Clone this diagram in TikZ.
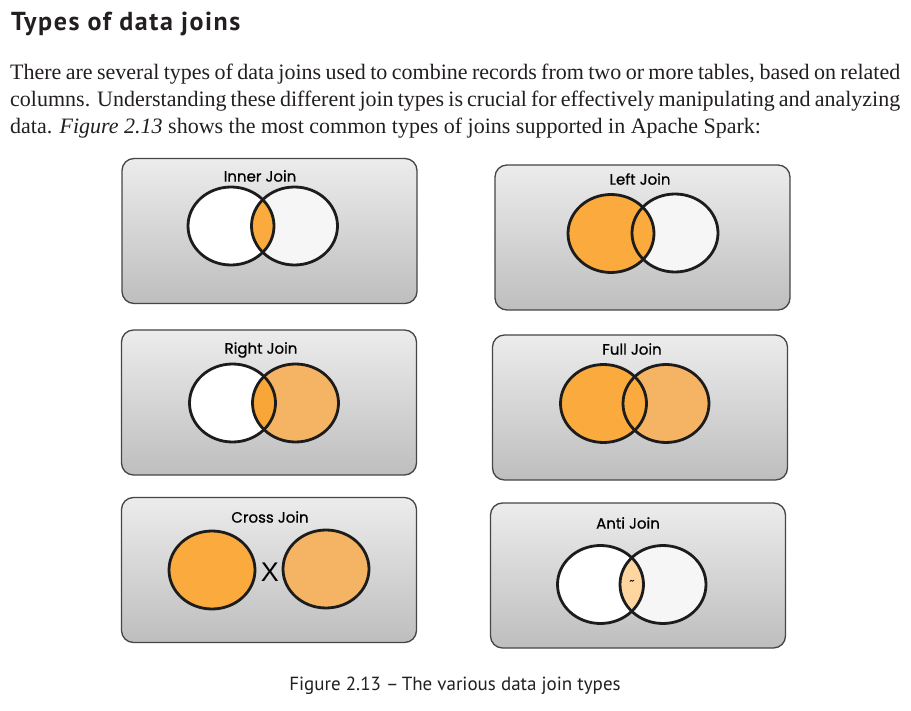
\documentclass[tikz,border=0pt]{standalone}
\usepackage{fontspec}
\setmainfont{Liberation Serif}
\newfontfamily\headfont[LetterSpace=6]{PT Sans}
\newfontfamily\capfont{PT Sans}
\newfontfamily\jfont[FakeBold=0.7]{Poppins}
\newfontfamily\xfont{Liberation Sans}
\definecolor{ringc}{RGB}{28,28,28}
\definecolor{panelbd}{RGB}{70,70,70}
\definecolor{boxtop}{RGB}{236,236,236}
\definecolor{boxbot}{RGB}{190,190,190}
\definecolor{offw}{RGB}{246,246,246}
\definecolor{orA}{RGB}{251,170,62}
\definecolor{orB}{RGB}{244,180,100}
\definecolor{orC}{RGB}{249,166,56}
\definecolor{orL}{RGB}{255,214,160}
\definecolor{headc}{RGB}{35,31,32}
\tikzset{
  panel/.style={draw=panelbd, line width=1.3pt, rounded corners=12pt, top color=boxtop, bottom color=boxbot, minimum width=295pt, minimum height=145pt, inner sep=0pt},
  ring/.style={draw=ringc, line width=2.8pt},
  vr/.style={x radius=43pt, y radius=39pt},
  jtitle/.style={font=\jfont\fontsize{15}{17}\selectfont, text=black, inner sep=0pt},
  para/.style={anchor=base west, inner sep=0pt, text=headc, font=\fontsize{22}{26}\selectfont},
}
\begin{document}
\begin{tikzpicture}[x=1pt,y=-1pt]
\useasboundingbox[fill=white] (0,0) rectangle (911,711);

% heading and paragraph
\node[anchor=base west, inner sep=0pt, text=headc, font=\headfont\bfseries\fontsize{26}{30}\selectfont] (head) at (11,31) {Types of data joins};
\node[para] (l1) at (10,80) {\makebox[890pt][s]{There are several types of data joins used to combine records from two or more tables, based on related}};
\node[para] (l2) at (10,107) {\makebox[890pt][s]{columns. Understanding these different join types is crucial for effectively manipulating and analyzing}};
\node[para] (l3) at (10,134) {data. \textit{Figure 2.13} shows the most common types of joins supported in Apache Spark:};

% panels
\node[panel] (pinner) at (269.5,231) {};
\node[panel] (pleft)  at (642.5,237.5) {};
\node[panel] (pright) at (269,402.5) {};
\node[panel] (pfull)  at (640,407.5) {};
\node[panel] (pcross) at (269,570) {};
\node[panel] (panti)  at (638,575.5) {};

% Inner Join
\coordinate (iL) at (231,226); \coordinate (iR) at (294.5,226);
\fill[white] (iL) ellipse[vr];
\fill[offw] (iR) ellipse[vr];
\begin{scope}\clip (iL) ellipse[vr]; \fill[orA] (iR) ellipse[vr];\end{scope}
\draw[ring] (iL) ellipse[vr]; \draw[ring] (iR) ellipse[vr];
\node[jtitle] (tinner) at (260,176) {Inner Join};

% Left Join
\coordinate (lL) at (611,233.5); \coordinate (lR) at (675,233);
\fill[offw] (lR) ellipse[vr];
\fill[orA] (lL) ellipse[vr];
\draw[ring] (lL) ellipse[vr]; \draw[ring] (lR) ellipse[vr];
\node[jtitle] (tleft) at (640,179) {Left Join};

% Right Join
\coordinate (rL) at (232.5,403); \coordinate (rR) at (295.5,403);
\fill[white] (rL) ellipse[vr];
\fill[orB] (rR) ellipse[vr];
\begin{scope}\clip (rL) ellipse[vr]; \fill[orC] (rR) ellipse[vr];\end{scope}
\draw[ring] (rL) ellipse[vr]; \draw[ring] (rR) ellipse[vr];
\node[jtitle] (tright) at (261,350) {Right Join};

% Full Join
\coordinate (fL) at (603.5,403.5); \coordinate (fR) at (666,403.5);
\fill[orB] (fR) ellipse[vr];
\fill[orA] (fL) ellipse[vr];
\draw[ring] (fL) ellipse[vr]; \draw[ring] (fR) ellipse[vr];
\node[jtitle] (tfull) at (632,349) {Full Join};

% Cross Join
\coordinate (cL) at (212,570); \coordinate (cR) at (326,569);
\fill[orA] (cL) ellipse[vr];
\fill[orB] (cR) ellipse[vr];
\draw[ring] (cL) ellipse[vr]; \draw[ring] (cR) ellipse[vr];
\node[inner sep=0pt, font=\xfont\fontsize{27}{30}\selectfont] (cx) at (270,572) {X};
\node[jtitle] (tcross) at (270,517) {Cross Join};

% Anti Join
\coordinate (aL) at (600.5,584.5); \coordinate (aR) at (663,584.5);
\fill[white] (aL) ellipse[vr];
\fill[offw] (aR) ellipse[vr];
\begin{scope}\clip (aL) ellipse[vr]; \fill[orL] (aR) ellipse[vr];\end{scope}
\draw[ring] (aL) ellipse[vr]; \draw[ring] (aR) ellipse[vr];
\node[inner sep=0pt, font=\jfont\fontsize{10}{10}\selectfont] (atil) at (632,582) {\textasciitilde};
\node[jtitle] (tanti) at (628,523) {Anti Join};

% caption
\node[anchor=base, inner sep=0pt, text=headc, font=\capfont\fontsize{19}{21}\selectfont] (cap) at (455,690) {Figure 2.13 \textendash\,The various data join types};
\end{tikzpicture}
\end{document}
